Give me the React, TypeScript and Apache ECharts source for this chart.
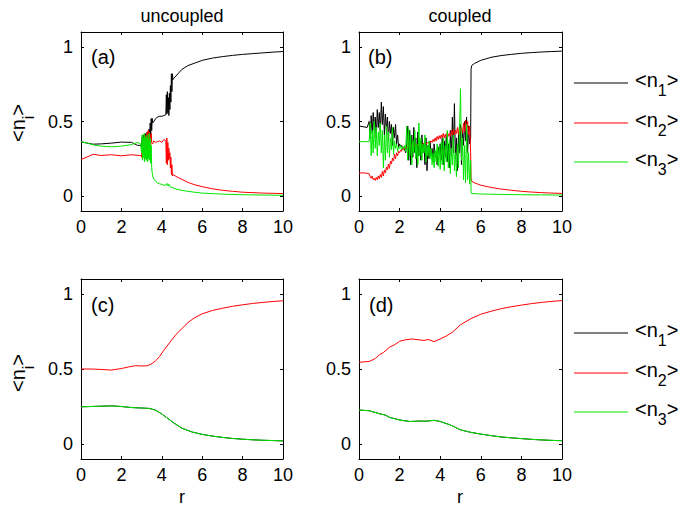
import React, { useEffect, useRef } from "react";
import * as echarts from "echarts";

const X_TICKS = [0, 2, 4, 6, 8, 10];
const Y_TICKS = [0, 0.5, 1];
const COLUMN_TITLES = ["uncoupled", "coupled"];
const PANEL_LABELS = ["(a)", "(b)", "(c)", "(d)"];
const SERIES_NAMES = ["<n1>", "<n2>", "<n3>"];
const SUBSCRIPTS = ["1", "2", "3"];
const COLORS = ["#000000", "#ff0000", "#00e600"];

// Panel (a): uncoupled, noisy
const A_N1 = [[0,0.365],[0.3,0.355],[0.6,0.348],[1.0,0.35],[1.5,0.355],[2.0,0.362],[2.5,0.36],[2.8,0.34],[2.95,0.34],
[3.0,0.33],[3.025,0.39],[3.05,0.30],[3.075,0.41],[3.1,0.32],[3.125,0.40],[3.15,0.29],[3.175,0.42],[3.2,0.34],[3.225,0.41],[3.25,0.31],[3.275,0.43],[3.3,0.35],[3.325,0.42],[3.35,0.32],[3.375,0.45],[3.4,0.37],[3.425,0.49],[3.45,0.39],[3.475,0.52],[3.5,0.44],[3.525,0.52],[3.55,0.49],[3.6,0.50],[3.7,0.52],[3.8,0.53],[3.9,0.535],[4.0,0.535],[4.1,0.54],[4.2,0.545],
[4.225,0.68],[4.25,0.55],[4.275,0.70],[4.3,0.56],[4.325,0.66],[4.35,0.54],[4.375,0.69],[4.4,0.58],[4.425,0.74],[4.45,0.63],[4.475,0.82],[4.5,0.70],[4.525,0.82],[4.55,0.78],[4.6,0.79],[4.8,0.82],[5.0,0.85],[5.3,0.875],[5.6,0.89],[6.0,0.91],[6.5,0.925],[7.0,0.935],[7.5,0.943],[8.0,0.95],[8.5,0.955],[9.0,0.96],[9.5,0.965],[10,0.969]];
const A_N2 = [[0,0.245],[0.3,0.262],[0.6,0.28],[1.0,0.272],[1.5,0.277],[2.0,0.27],[2.5,0.277],[2.9,0.272],[2.975,0.272],
[3.0,0.26],[3.025,0.32],[3.05,0.25],[3.075,0.34],[3.1,0.27],[3.125,0.37],[3.15,0.29],[3.175,0.39],[3.2,0.26],[3.225,0.41],[3.25,0.29],[3.275,0.43],[3.3,0.27],[3.325,0.44],[3.35,0.32],[3.375,0.43],[3.4,0.29],[3.425,0.41],[3.45,0.34],[3.475,0.42],[3.5,0.36],[3.55,0.35],[3.6,0.37],[3.7,0.36],[3.8,0.365],[3.9,0.37],[4.0,0.36],[4.1,0.38],[4.2,0.37],
[4.225,0.22],[4.25,0.39],[4.275,0.21],[4.3,0.36],[4.325,0.24],[4.35,0.32],[4.375,0.25],[4.4,0.29],[4.425,0.19],[4.45,0.26],[4.475,0.145],[4.5,0.21],[4.525,0.135],[4.55,0.145],[4.6,0.14],[4.8,0.125],[5.0,0.112],[5.3,0.092],[5.6,0.077],[6.0,0.063],[6.5,0.049],[7.0,0.039],[7.5,0.032],[8.0,0.026],[9.0,0.02],[10,0.017]];
const A_N3 = [[0,0.365],[0.3,0.355],[0.7,0.34],[1.0,0.335],[1.5,0.33],[2.0,0.335],[2.5,0.345],[2.8,0.36],[2.95,0.35],
[3.0,0.29],[3.025,0.41],[3.05,0.24],[3.075,0.39],[3.1,0.26],[3.125,0.42],[3.15,0.23],[3.175,0.40],[3.2,0.25],[3.225,0.39],[3.25,0.24],[3.275,0.41],[3.3,0.23],[3.325,0.38],[3.35,0.25],[3.375,0.42],[3.4,0.24],[3.425,0.39],[3.45,0.22],[3.475,0.34],[3.5,0.19],[3.525,0.155],[3.55,0.135],[3.6,0.115],[3.7,0.097],[3.8,0.087],[3.9,0.082],[4.0,0.078],[4.1,0.073],[4.2,0.073],[4.25,0.085],[4.3,0.068],[4.35,0.08],[4.4,0.063],[4.5,0.058],[4.7,0.048],[5.0,0.038],[5.5,0.028],[6.0,0.02],[7.0,0.013],[8.0,0.009],[9.0,0.007],[10,0.005]];

// Panel (b): coupled, noisy
const B_N1 = [[0,0.47],[0.2,0.465],[0.4,0.46],[0.5,0.50],[0.55,0.39],[0.6,0.54],[0.65,0.42],[0.7,0.56],[0.75,0.44],[0.8,0.53],[0.85,0.39],[0.9,0.58],[0.95,0.46],[1.0,0.56],[1.05,0.43],[1.1,0.63],[1.15,0.48],[1.2,0.60],[1.25,0.41],[1.3,0.55],[1.35,0.45],[1.4,0.53],[1.45,0.37],[1.5,0.50],[1.55,0.42],[1.6,0.48],[1.65,0.34],[1.7,0.46],[1.75,0.39],[1.8,0.48],[1.85,0.35],[1.9,0.41],[1.95,0.33],[2.0,0.35],[2.05,0.33],[2.1,0.34],[2.15,0.32],[2.2,0.33],[2.25,0.31],[2.3,0.29],[2.35,0.35],[2.4,0.47],[2.45,0.24],[2.5,0.44],[2.55,0.21],[2.6,0.41],[2.65,0.26],[2.7,0.46],[2.75,0.29],[2.8,0.39],[2.85,0.19],[2.9,0.43],[2.95,0.27],[3.0,0.37],[3.05,0.24],[3.1,0.41],[3.15,0.29],[3.2,0.35],[3.25,0.21],[3.3,0.39],[3.35,0.17],[3.4,0.34],[3.45,0.25],[3.5,0.37],[3.55,0.27],[3.6,0.32],[3.65,0.23],[3.7,0.35],[3.75,0.26],[3.8,0.30],[3.85,0.21],[3.9,0.33],[3.95,0.28],[4.0,0.35],[4.05,0.24],[4.1,0.39],[4.15,0.21],[4.2,0.37],[4.25,0.26],[4.3,0.41],[4.35,0.23],[4.4,0.35],[4.45,0.19],[4.5,0.44],[4.55,0.27],[4.6,0.53],[4.65,0.29],[4.7,0.62],[4.75,0.25],[4.8,0.39],[4.85,0.17],[4.9,0.41],[4.95,0.29],[5.0,0.48],[5.05,0.21],[5.1,0.44],[5.15,0.34],[5.2,0.50],[5.25,0.37],[5.3,0.53],[5.35,0.29],[5.4,0.47],[5.45,0.35],[5.5,0.39],[5.52,0.85],[5.55,0.875],[5.7,0.89],[6.0,0.91],[6.5,0.93],[7.0,0.942],[7.5,0.95],[8.0,0.957],[8.5,0.962],[9.0,0.966],[9.5,0.969],[10,0.972]];
const B_N2 = [[0,0.155],[0.3,0.155],[0.5,0.15],[0.55,0.13],[0.6,0.12],[0.65,0.135],[0.7,0.11],[0.75,0.12],[0.8,0.105],[0.85,0.125],[0.9,0.11],[0.95,0.135],[1.0,0.115],[1.05,0.145],[1.1,0.125],[1.15,0.165],[1.2,0.135],[1.25,0.175],[1.3,0.155],[1.35,0.195],[1.4,0.175],[1.45,0.215],[1.5,0.185],[1.55,0.235],[1.6,0.215],[1.65,0.255],[1.7,0.235],[1.75,0.28],[1.8,0.25],[1.85,0.29],[1.9,0.27],[1.95,0.30],[2.0,0.29],[2.05,0.31],[2.1,0.30],[2.15,0.32],[2.2,0.31],[2.25,0.33],[2.3,0.32],[2.35,0.335],[2.4,0.325],[2.45,0.34],[2.5,0.33],[2.6,0.34],[2.7,0.335],[2.8,0.345],[2.9,0.34],[3.0,0.35],[3.1,0.345],[3.2,0.355],[3.3,0.35],[3.4,0.36],[3.5,0.355],[3.55,0.37],[3.6,0.36],[3.65,0.38],[3.7,0.365],[3.75,0.39],[3.8,0.37],[3.85,0.40],[3.9,0.38],[3.95,0.405],[4.0,0.385],[4.05,0.41],[4.1,0.39],[4.15,0.42],[4.2,0.39],[4.25,0.415],[4.3,0.395],[4.35,0.43],[4.4,0.40],[4.45,0.42],[4.5,0.40],[4.55,0.44],[4.6,0.41],[4.65,0.45],[4.7,0.41],[4.75,0.44],[4.8,0.42],[4.85,0.46],[4.9,0.41],[4.95,0.47],[5.0,0.43],[5.05,0.46],[5.1,0.42],[5.15,0.49],[5.2,0.43],[5.25,0.51],[5.3,0.44],[5.35,0.50],[5.4,0.41],[5.45,0.47],[5.5,0.29],[5.52,0.12],[5.55,0.10],[5.7,0.088],[6.0,0.073],[6.5,0.058],[7.0,0.047],[7.5,0.039],[8.0,0.032],[8.5,0.027],[9.0,0.023],[9.5,0.02],[10,0.018]];
const B_N3 = [[0,0.365],[0.3,0.365],[0.5,0.365],[0.55,0.49],[0.6,0.27],[0.65,0.44],[0.7,0.29],[0.75,0.50],[0.8,0.32],[0.85,0.46],[0.9,0.27],[0.95,0.43],[1.0,0.34],[1.05,0.49],[1.1,0.29],[1.15,0.44],[1.2,0.19],[1.25,0.41],[1.3,0.24],[1.35,0.47],[1.4,0.29],[1.45,0.43],[1.5,0.26],[1.55,0.39],[1.6,0.31],[1.65,0.46],[1.7,0.28],[1.75,0.37],[1.8,0.32],[1.85,0.35],[1.9,0.30],[1.95,0.33],[2.0,0.32],[2.05,0.34],[2.1,0.31],[2.15,0.33],[2.2,0.32],[2.25,0.34],[2.3,0.30],[2.35,0.47],[2.4,0.24],[2.45,0.45],[2.5,0.27],[2.55,0.41],[2.6,0.21],[2.65,0.37],[2.7,0.29],[2.75,0.44],[2.8,0.25],[2.85,0.35],[2.9,0.21],[2.95,0.49],[3.0,0.27],[3.05,0.39],[3.1,0.24],[3.15,0.35],[3.2,0.29],[3.25,0.41],[3.3,0.23],[3.35,0.34],[3.4,0.27],[3.45,0.37],[3.5,0.25],[3.55,0.32],[3.6,0.21],[3.65,0.29],[3.7,0.19],[3.75,0.31],[3.8,0.23],[3.85,0.35],[3.9,0.20],[3.95,0.33],[4.0,0.18],[4.05,0.36],[4.1,0.21],[4.15,0.39],[4.2,0.17],[4.25,0.34],[4.3,0.23],[4.35,0.44],[4.4,0.19],[4.45,0.37],[4.5,0.15],[4.55,0.32],[4.6,0.21],[4.65,0.41],[4.7,0.17],[4.75,0.29],[4.8,0.13],[4.85,0.35],[4.9,0.19],[4.95,0.44],[5.0,0.72],[5.05,0.24],[5.1,0.39],[5.15,0.11],[5.2,0.34],[5.25,0.09],[5.3,0.48],[5.35,0.11],[5.4,0.29],[5.45,0.08],[5.5,0.24],[5.52,0.03],[5.55,0.017],[6.0,0.014],[7.0,0.011],[8.0,0.009],[9.0,0.008],[10,0.007]];

// Panel (c): uncoupled, averaged (n1 coincides with n3)
const C_N2 = [[0,0.50],[0.5,0.50],[1.0,0.497],[1.5,0.493],[2.0,0.503],[2.4,0.515],[2.7,0.522],[3.0,0.52],[3.3,0.522],[3.5,0.535],[3.7,0.555],[3.9,0.585],[4.1,0.625],[4.3,0.66],[4.5,0.695],[4.7,0.73],[5.0,0.77],[5.3,0.81],[5.6,0.84],[6.0,0.868],[6.5,0.89],[7.0,0.905],[7.5,0.918],[8.0,0.928],[8.5,0.937],[9.0,0.944],[9.5,0.95],[10,0.955]];
const C_N1 = [[0,0.248],[0.5,0.25],[1.0,0.252],[1.5,0.254],[2.0,0.25],[2.5,0.243],[3.0,0.24],[3.4,0.237],[3.7,0.225],[4.0,0.2],[4.3,0.17],[4.6,0.14],[5.0,0.105],[5.5,0.08],[6.0,0.064],[6.5,0.053],[7.0,0.044],[7.5,0.037],[8.0,0.032],[8.5,0.028],[9.0,0.025],[9.5,0.023],[10,0.021]];
const C_N3 = [[0,0.248],[0.5,0.25],[1.0,0.252],[1.5,0.254],[2.0,0.25],[2.5,0.243],[3.0,0.24],[3.4,0.237],[3.7,0.225],[4.0,0.2],[4.3,0.17],[4.6,0.14],[5.0,0.105],[5.5,0.08],[6.0,0.064],[6.5,0.053],[7.0,0.044],[7.5,0.037],[8.0,0.032],[8.5,0.028],[9.0,0.025],[9.5,0.023],[10,0.021]];

// Panel (d): coupled, averaged (n1 coincides with n3)
const D_N2 = [[0,0.545],[0.5,0.55],[0.8,0.57],[1.0,0.595],[1.2,0.61],[1.5,0.645],[1.8,0.665],[2.0,0.685],[2.3,0.695],[2.6,0.70],[3.0,0.694],[3.2,0.69],[3.4,0.697],[3.7,0.683],[4.0,0.70],[4.3,0.72],[4.6,0.745],[5.0,0.795],[5.5,0.835],[6.0,0.865],[6.5,0.885],[7.0,0.902],[7.5,0.915],[8.0,0.926],[8.5,0.936],[9.0,0.944],[9.5,0.951],[10,0.956]];
const D_N1 = [[0,0.226],[0.5,0.222],[1.0,0.202],[1.3,0.193],[1.5,0.178],[2.0,0.16],[2.5,0.15],[3.0,0.153],[3.3,0.152],[3.7,0.158],[4.0,0.15],[4.5,0.127],[5.0,0.094],[5.5,0.078],[6.0,0.066],[6.5,0.056],[7.0,0.047],[7.5,0.041],[8.0,0.036],[8.5,0.031],[9.0,0.027],[9.5,0.024],[10,0.022]];
const D_N3 = [[0,0.226],[0.5,0.222],[1.0,0.202],[1.3,0.193],[1.5,0.178],[2.0,0.16],[2.5,0.15],[3.0,0.153],[3.3,0.152],[3.7,0.158],[4.0,0.15],[4.5,0.127],[5.0,0.094],[5.5,0.078],[6.0,0.066],[6.5,0.056],[7.0,0.047],[7.5,0.041],[8.0,0.036],[8.5,0.031],[9.0,0.027],[9.5,0.024],[10,0.022]];

const PANELS = [
  [A_N1, A_N2, A_N3],
  [B_N1, B_N2, B_N3],
  [C_N1, C_N2, C_N3],
  [D_N1, D_N2, D_N3],
];

const FONT = "'Liberation Sans', Arial, Helvetica, sans-serif";

const GRIDS = [
  { left: 81, top: 32, width: 202, height: 179 },
  { left: 359, top: 32, width: 203, height: 179 },
  { left: 81, top: 279, width: 202, height: 180 },
  { left: 359, top: 279, width: 203, height: 180 },
];

function buildOption() {
  const xAxis: any[] = [];
  const yAxis: any[] = [];
  const series: any[] = [];
  const axisLine = { onZero: false, lineStyle: { color: "#000", width: 1 } };
  GRIDS.forEach((_, g) => {
    ["bottom", "top"].forEach((pos, k) => {
      xAxis.push({
        type: "value", gridIndex: g, position: pos, min: 0, max: 10, interval: 2,
        axisLine,
        axisTick: { inside: true, length: 3, customValues: X_TICKS, lineStyle: { color: "#000" } },
        axisLabel: { show: k === 0, customValues: X_TICKS, color: "#000", fontSize: 18, fontFamily: FONT, margin: 7 },
        splitLine: { show: false },
      });
    });
    ["left", "right"].forEach((pos, k) => {
      yAxis.push({
        type: "value", gridIndex: g, position: pos, min: -0.1, max: 1.1,
        axisLine,
        axisTick: { inside: true, length: 3, customValues: Y_TICKS, lineStyle: { color: "#000" } },
        axisLabel: { show: k === 0, customValues: Y_TICKS, color: "#000", fontSize: 18, fontFamily: FONT, margin: 8 },
        splitLine: { show: false },
      });
    });
    PANELS[g].forEach((data, i) => {
      series.push({
        type: "line", name: SERIES_NAMES[i], xAxisIndex: 2 * g, yAxisIndex: 2 * g,
        data, symbol: "none", showSymbol: false, smooth: false,
        lineStyle: { color: COLORS[i], width: 1 }, itemStyle: { color: COLORS[i] },
        emphasis: { disabled: true }, silent: true,
      });
    });
  });

  const graphic: any[] = [];
  const txt = (text: string, x: number, y: number, size: number, align = "center") => ({
    type: "text", x, y, silent: true,
    style: { text, fill: "#000", fontSize: size, fontFamily: FONT, align, verticalAlign: "middle" },
  });
  graphic.push(txt(COLUMN_TITLES[0], 182, 16, 18));
  graphic.push(txt(COLUMN_TITLES[1], 460, 16, 18));
  const labelPos = [[91, 57], [368, 57], [91, 305], [369, 305]];
  PANEL_LABELS.forEach((t, i) => graphic.push(txt(t, labelPos[i][0], labelPos[i][1], 20, "left")));
  graphic.push(txt("r", 182, 497, 18));
  graphic.push(txt("r", 460, 497, 18));
  const rich = {
    m: { fontSize: 20, fontFamily: FONT, fill: "#000", color: "#000", lineHeight: 22, verticalAlign: "top" },
    s: { fontSize: 16, fontFamily: FONT, fill: "#000", color: "#000", lineHeight: 40, verticalAlign: "middle" },
  };
  [123, 373].forEach((y) => {
    graphic.push({
      type: "text", x: 28, y, rotation: Math.PI / 2, silent: true,
      style: { text: "{m|<n}{s|i}{m|>}", rich, fill: "#000", align: "center", verticalAlign: "middle", fontFamily: FONT },
    });
  });
  const legendRows = [[83, 123, 162], [333, 373, 412]];
  legendRows.forEach((rows) => {
    rows.forEach((y, i) => {
      graphic.push({ type: "line", silent: true, shape: { x1: 574, y1: y, x2: 628, y2: y }, style: { stroke: COLORS[i], lineWidth: 1 } });
      graphic.push({
        type: "text", x: 635, y: y + 7, silent: true,
        style: { text: `{m|<n}{s|${SUBSCRIPTS[i]}}{m|>}`, rich, fill: "#000", align: "left", verticalAlign: "middle", fontFamily: FONT },
      });
    });
  });

  return {
    animation: false,
    backgroundColor: "#fff",
    grid: GRIDS.map((g) => ({ ...g, containLabel: false, show: false })),
    xAxis, yAxis, series, graphic,
  };
}

export default function App() {
  const ref = useRef<HTMLDivElement>(null);
  useEffect(() => {
    const chart = echarts.init(ref.current!, null, { renderer: "svg" });
    chart.setOption(buildOption());
    return () => chart.dispose();
  }, []);
  return (
    <div
      ref={ref}
      style={{ position: "absolute", left: 0, top: 0, width: 683, height: 508, background: "#fff" }}
    />
  );
}
